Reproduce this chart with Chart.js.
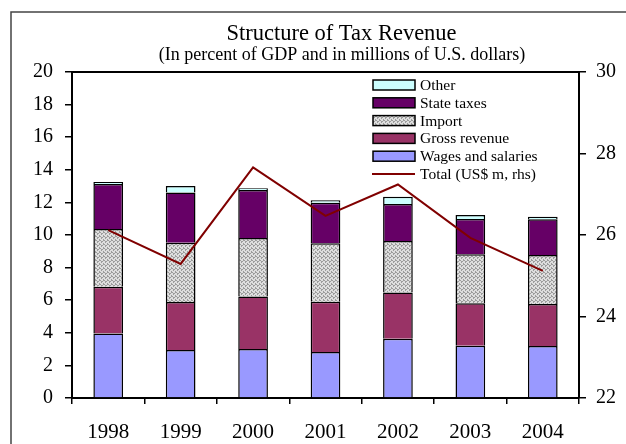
<!DOCTYPE html>
<html><head><meta charset="utf-8">
<script src="https://cdn.jsdelivr.net/npm/chart.js@4/dist/chart.umd.min.js"></script>
<style>html,body{margin:0;padding:0;background:#fff}#wrap{width:626px;height:444px}</style>
</head><body><div id="wrap"><canvas id="c" width="626" height="444"></canvas></div>
<script>
const years = ['1998','1999','2000','2001','2002','2003','2004'];
const wages = [3.95, 2.94, 3.00, 2.82, 3.64, 3.21, 3.19];
const gross = [2.88, 2.95, 3.22, 3.09, 2.84, 2.60, 2.58];
const importTax = [3.54, 3.64, 3.60, 3.58, 3.15, 3.01, 3.00];
const stateTaxes = [2.76, 3.07, 2.94, 2.49, 2.27, 2.16, 2.19];
const other = [0.12, 0.40, 0.11, 0.15, 0.45, 0.25, 0.16];
const totalUSD = [26.12, 25.29, 27.66, 26.47, 27.24, 25.93, 25.12];
const leftTicks = [0,2,4,6,8,10,12,14,16,18,20];
const rightTicks = [22,24,26,28,30];

const FONT = "'Liberation Serif', 'Times New Roman', serif";

// fine stipple pattern for Import
const pc = document.createElement('canvas'); pc.width = 4; pc.height = 4;
const px = pc.getContext('2d');
px.fillStyle = '#dedede'; px.fillRect(0,0,4,4);
px.fillStyle = '#9c9c9c';
[[0,0],[2,1],[1,2],[3,3],[3,0],[1,1]].forEach(([a,b]) => px.fillRect(a,b,1,1));
const importPattern = px.createPattern(pc, 'repeat');

const COLORS = {
  wages: '#9999FF', gross: '#993366', imp: importPattern, state: '#660066', other: '#CCFFFF', total: '#800000'
};

const barCommon = { borderColor: '#000', borderWidth: 1.5, barPercentage: 0.41, categoryPercentage: 1, stack: 's', yAxisID: 'y', order: 1 };

const legendItems = [
  {label: 'Other', fill: COLORS.other},
  {label: 'State taxes', fill: COLORS.state},
  {label: 'Import', fill: COLORS.imp},
  {label: 'Gross revenue', fill: COLORS.gross},
  {label: 'Wages and salaries', fill: COLORS.wages},
  {label: 'Total (US$ m, rhs)', line: COLORS.total}
];

const decor = {
  id: 'decor',
  beforeDraw(chart) {
    const ctx = chart.ctx;
    ctx.save();
    ctx.fillStyle = '#fff'; ctx.fillRect(0,0,chart.width,chart.height);
    // outer frame
    ctx.strokeStyle = '#444'; ctx.lineWidth = 1.5;
    ctx.beginPath(); ctx.moveTo(11, chart.height); ctx.lineTo(11, 12); ctx.lineTo(chart.width, 12); ctx.stroke();
    // titles
    ctx.fillStyle = '#000'; ctx.textAlign = 'center'; ctx.textBaseline = 'alphabetic';
    ctx.font = '22.5px ' + FONT; ctx.fillText('Structure of Tax Revenue', 341.5, 39.5);
    ctx.font = '18px ' + FONT; ctx.fillText('(In percent of GDP and in millions of U.S. dollars)', 342, 60);
    ctx.restore();
  },
  afterDraw(chart) {
    const ctx = chart.ctx; const a = chart.chartArea;
    ctx.save();
    // top border of plot area
    ctx.strokeStyle = '#000'; ctx.lineWidth = 2;
    ctx.beginPath(); ctx.moveTo(a.left, a.top); ctx.lineTo(a.right, a.top); ctx.stroke();
    // legend
    ctx.font = '15.5px ' + FONT; ctx.textBaseline = 'middle'; ctx.textAlign = 'left';
    legendItems.forEach((it, i) => {
      const y = 85 + i * 17.8;
      if (it.line) {
        ctx.strokeStyle = it.line; ctx.lineWidth = 2;
        ctx.beginPath(); ctx.moveTo(372, y); ctx.lineTo(415, y); ctx.stroke();
      } else {
        ctx.fillStyle = it.fill; ctx.fillRect(373, y - 5, 42, 10);
        ctx.strokeStyle = '#000'; ctx.lineWidth = 1.5; ctx.strokeRect(373, y - 5, 42, 10);
      }
      ctx.fillStyle = '#000'; ctx.fillText(it.label, 420, y + 1);
    });
    ctx.restore();
  }
};

new Chart(document.getElementById('c'), {
  type: 'bar',
  data: {
    labels: years,
    datasets: [
      {...barCommon, label: 'Wages and salaries', data: wages, backgroundColor: COLORS.wages},
      {...barCommon, label: 'Gross revenue', data: gross, backgroundColor: COLORS.gross},
      {...barCommon, label: 'Import', data: importTax, backgroundColor: COLORS.imp},
      {...barCommon, label: 'State taxes', data: stateTaxes, backgroundColor: COLORS.state},
      {...barCommon, label: 'Other', data: other, backgroundColor: COLORS.other},
      {type: 'line', label: 'Total (US$ m, rhs)', data: totalUSD, yAxisID: 'y1', borderColor: COLORS.total,
       borderWidth: 2, pointRadius: 0, tension: 0, fill: false, order: 0}
    ]
  },
  options: {
    responsive: false, animation: false,
    layout: { padding: { top: 72, left: 0, right: 0, bottom: 0 } },
    plugins: { legend: { display: false }, tooltip: { enabled: false }, title: { display: false } },
    scales: {
      x: {
        stacked: true, offset: true,
        grid: { offset: true, drawOnChartArea: false, color: '#000', lineWidth: 1.5, tickLength: 6 },
        border: { color: '#000', width: 2 },
        ticks: { color: '#000', font: { family: FONT, size: 21 }, padding: 16, maxRotation: 0 },
        afterFit(s) { s.height = 46; }
      },
      y: {
        stacked: true, min: 0, max: 20, position: 'left',
        afterBuildTicks(s) { s.ticks = leftTicks.map(v => ({value: v})); },
        grid: { drawOnChartArea: false, color: '#000', lineWidth: 1.5, tickLength: 7 },
        border: { color: '#000', width: 2 },
        ticks: { color: '#000', font: { family: FONT, size: 20 }, padding: 12 },
        afterFit(s) { s.width = 72; }
      },
      y1: {
        min: 22, max: 30, position: 'right',
        afterBuildTicks(s) { s.ticks = rightTicks.map(v => ({value: v})); },
        grid: { drawOnChartArea: false, color: '#000', lineWidth: 1.5, tickLength: 7 },
        border: { color: '#000', width: 2 },
        ticks: { color: '#000', font: { family: FONT, size: 20 }, padding: 10 },
        afterFit(s) { s.width = 47; }
      }
    }
  },
  plugins: [decor]
});
</script></body></html>
